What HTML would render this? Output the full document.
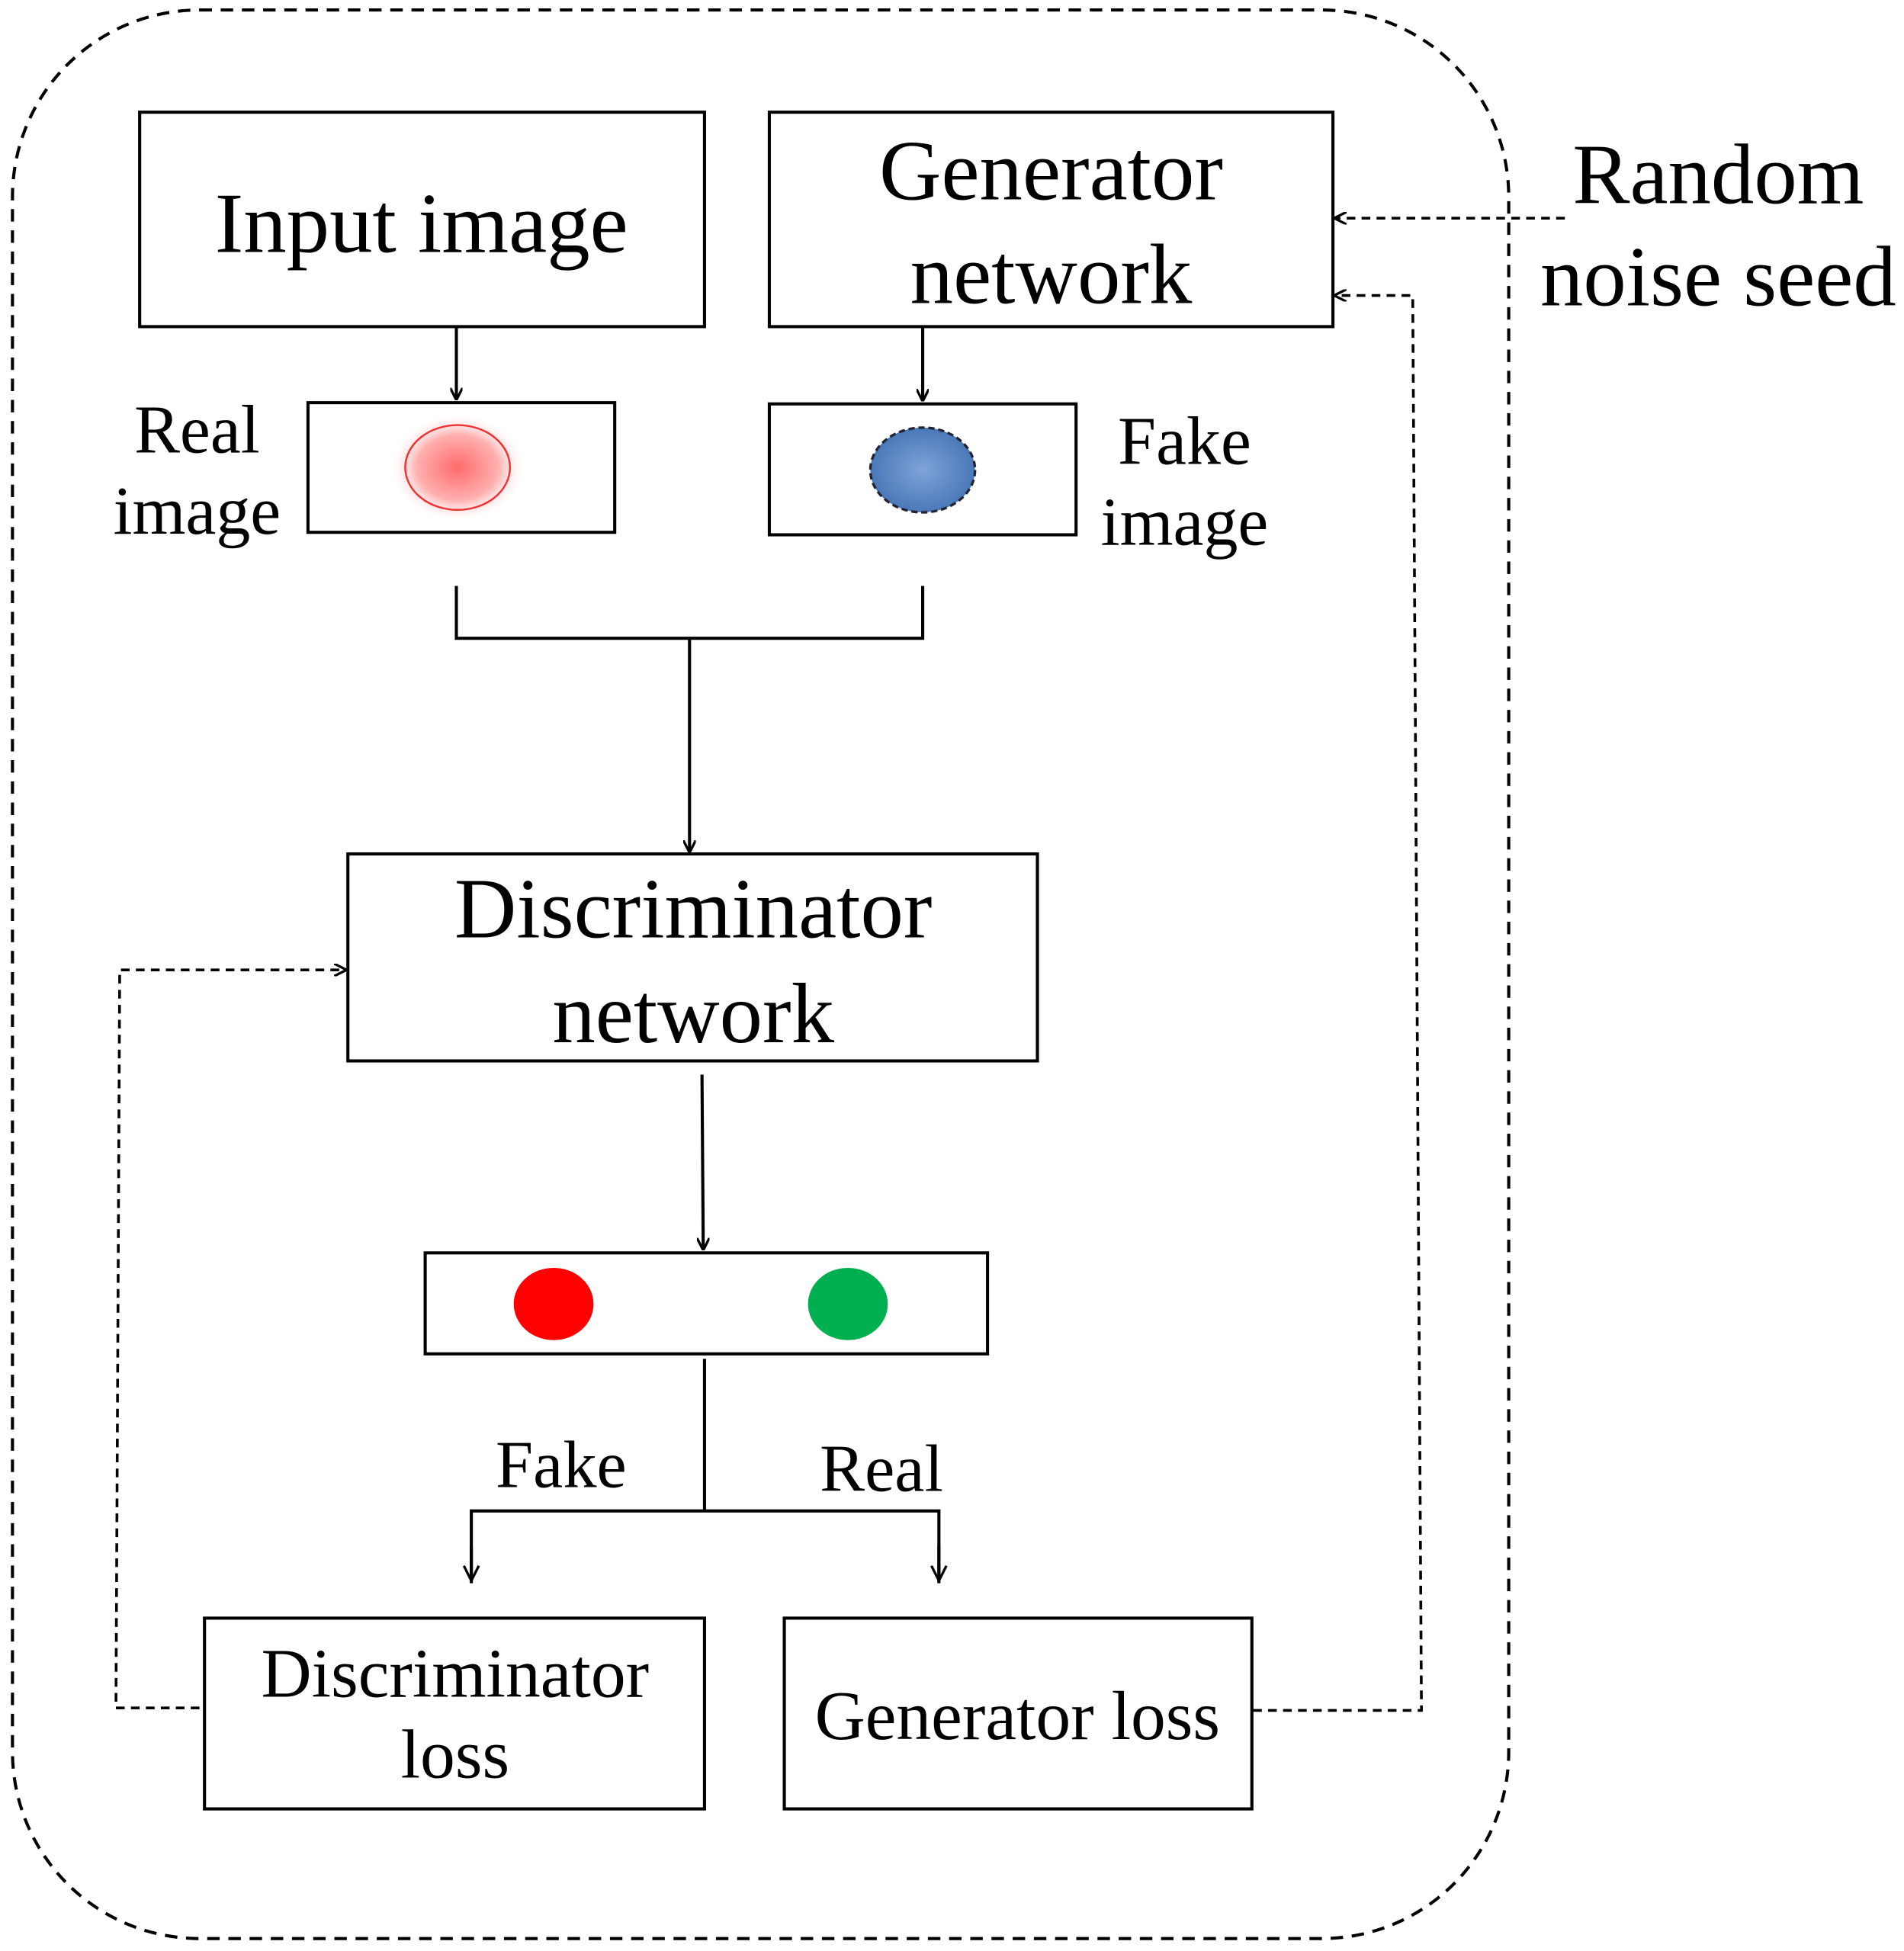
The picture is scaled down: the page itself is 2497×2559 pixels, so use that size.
<!DOCTYPE html>
<html><head><meta charset="utf-8"><style>html,body{margin:0;padding:0;background:#fff}svg{display:block}</style></head>
<body>
<svg width="2497" height="2559" viewBox="0 0 1527 1565" preserveAspectRatio="none" xmlns="http://www.w3.org/2000/svg" font-family="'Liberation Serif', serif" fill="#000">
<defs>
<marker id="a" markerWidth="10" markerHeight="10" refX="9" refY="5" orient="auto" markerUnits="userSpaceOnUse"><path d="M0,0 L10,5 L0,10" fill="none" stroke="#000" stroke-width="2"/></marker>
<marker id="b" markerWidth="14" markerHeight="14" refX="7" refY="13" orient="0" markerUnits="userSpaceOnUse"><path d="M1,1 L7,13 L13,1" fill="none" stroke="#000" stroke-width="2"/></marker>
<radialGradient id="rg"><stop offset="0" stop-color="#ff6b6b"/><stop offset="0.6" stop-color="#ffb0b0"/><stop offset="1" stop-color="#fff" stop-opacity="0"/></radialGradient>
<radialGradient id="bg"><stop offset="0" stop-color="#7fa4d8"/><stop offset="1" stop-color="#4a78b8"/></radialGradient>
</defs>
<rect x="10" y="8" width="1200" height="1547" rx="150" fill="none" stroke="#000" stroke-width="2.5" stroke-dasharray="10,7"/>
<g fill="#fff" stroke="#000" stroke-width="2.5">
<rect x="112" y="90" width="453" height="172"/>
<rect x="617" y="90" width="452" height="172"/>
<rect x="247" y="323" width="246" height="104"/>
<rect x="617" y="324" width="246" height="105"/>
<rect x="279" y="685" width="553" height="166"/>
<rect x="341" y="1005" width="451" height="81"/>
<rect x="164" y="1298" width="401" height="153"/>
<rect x="629" y="1298" width="375" height="153"/>
</g>
<ellipse cx="367" cy="375" rx="55" ry="44" fill="url(#rg)"/>
<ellipse cx="367" cy="375" rx="42" ry="34" fill="none" stroke="#e33" stroke-width="1.5"/>
<ellipse cx="740" cy="377" rx="42" ry="34" fill="url(#bg)" stroke="#223" stroke-width="2" stroke-dasharray="5,3"/>
<ellipse cx="444" cy="1046" rx="32" ry="29" fill="#f00"/>
<ellipse cx="680" cy="1046" rx="32" ry="29" fill="#00b050"/>
<g stroke="#000" stroke-width="2.5" fill="none">
<line x1="366" y1="262" x2="366" y2="320" marker-end="url(#a)"/>
<line x1="740" y1="262" x2="740" y2="321" marker-end="url(#a)"/>
<polyline points="366,470 366,512 740,512 740,470"/>
<line x1="553" y1="512" x2="553" y2="683" marker-end="url(#a)"/>
<line x1="563" y1="862" x2="564" y2="1002" marker-end="url(#a)"/>
<line x1="565" y1="1090" x2="565" y2="1213"/>
<polyline points="378,1270 378,1212 753,1212 753,1270"/>
</g>
<g stroke="#000" stroke-width="2.5" fill="none">
<polyline points="378,1240 378,1268" marker-end="url(#b)"/>
<polyline points="753,1240 753,1268" marker-end="url(#b)"/>
</g>
<g stroke="#000" stroke-width="2.2" fill="none" stroke-dasharray="7,5">
<line x1="1255" y1="175" x2="1071" y2="175" marker-end="url(#a)"/>
<polyline points="1005,1372 1140,1372 1133,237 1071,237" marker-end="url(#a)"/>
<polyline points="160,1370 93,1370 96,778 277,778" marker-end="url(#a)"/>
</g>
<g text-anchor="middle">
<text x="338" y="202" font-size="69">Input image</text>
<text x="843" y="160" font-size="69">Generator</text>
<text x="843" y="243" font-size="69">network</text>
<text x="1378" y="163" font-size="69">Random</text>
<text x="1378" y="245" font-size="69">noise seed</text>
<text x="158" y="363" font-size="55">Real</text>
<text x="158" y="428" font-size="55">image</text>
<text x="950" y="372" font-size="55">Fake</text>
<text x="950" y="437" font-size="55">image</text>
<text x="556" y="752" font-size="69">Discriminator</text>
<text x="556" y="836" font-size="69">network</text>
<text x="450" y="1193" font-size="54">Fake</text>
<text x="707" y="1196" font-size="54">Real</text>
<text x="365" y="1361" font-size="56">Discriminator</text>
<text x="365" y="1426" font-size="56">loss</text>
<text x="816" y="1395" font-size="56">Generator loss</text>
</g>
</svg>
</body></html>
